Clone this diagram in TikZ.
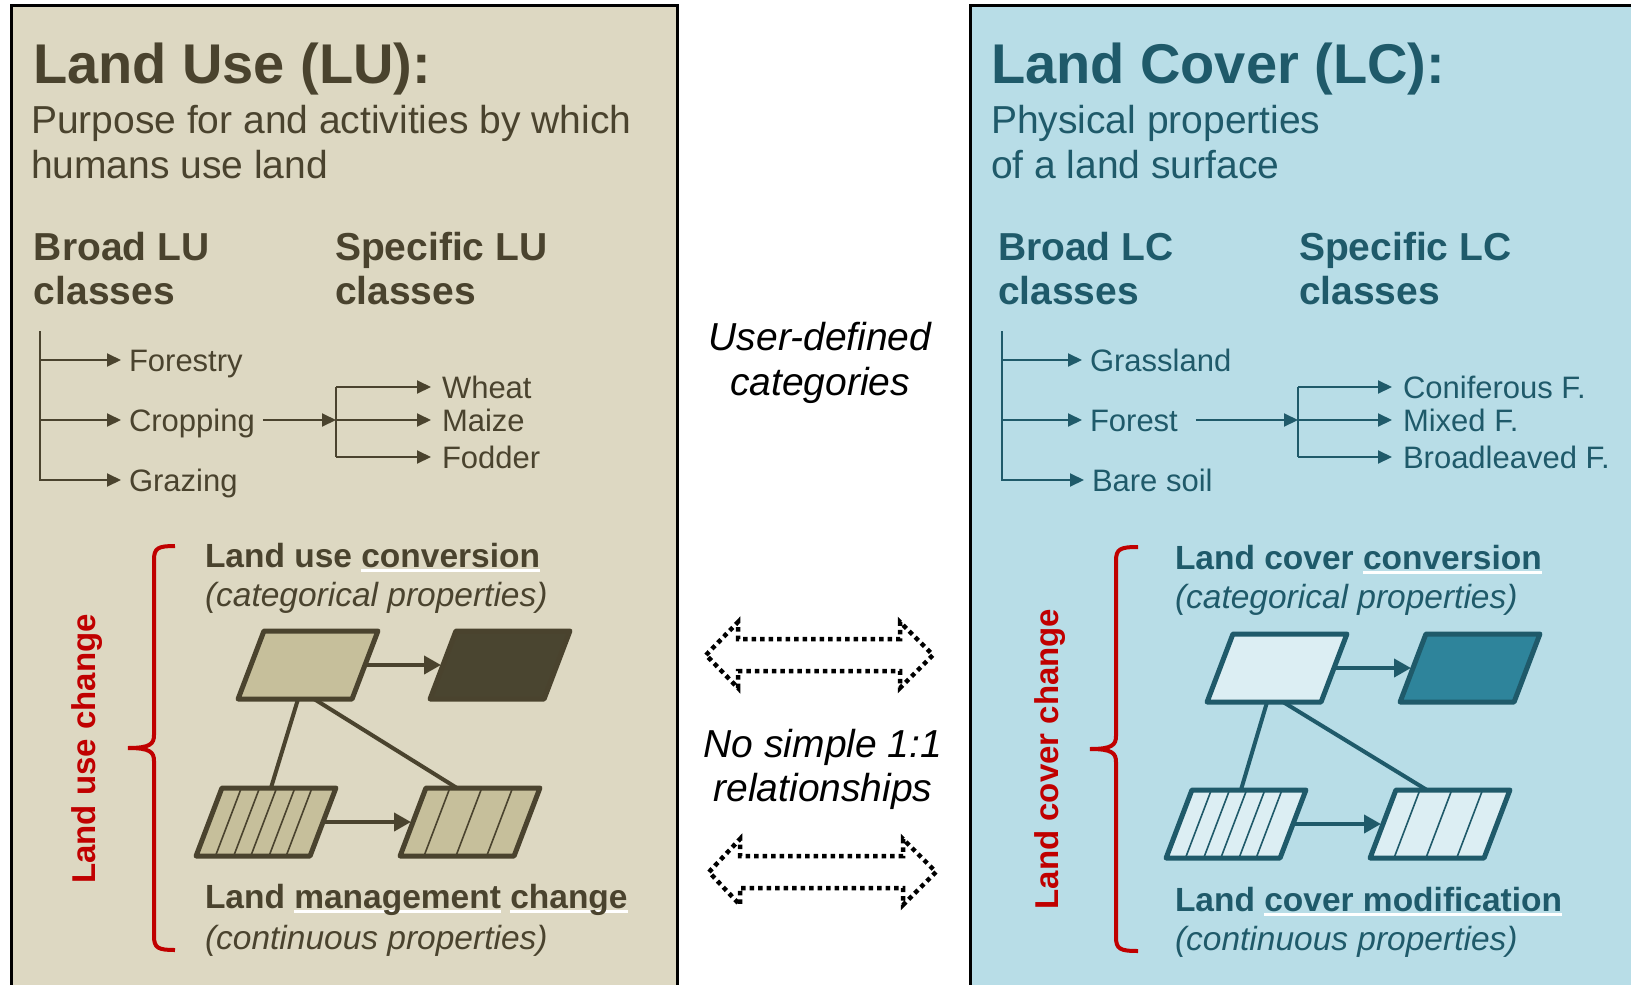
\documentclass[tikz,border=0pt]{standalone}
\usepackage{fontspec}
\setmainfont{Liberation Sans}
\usetikzlibrary{arrows.meta,calc}

\definecolor{luBg}{HTML}{DDD8C2}
\definecolor{luInk}{HTML}{4A432E}
\definecolor{luPale}{HTML}{C6BF9B}
\definecolor{luDark}{HTML}{4A4530}
\definecolor{lcBg}{HTML}{B8DDE7}
\definecolor{lcInk}{HTML}{1F5A6A}
\definecolor{lcPale}{HTML}{DCEEF3}
\definecolor{lcDark}{HTML}{2E849B}
\definecolor{braceRed}{HTML}{C00000}

% white underline drawn beneath a word, text stays on top
\newcommand{\whiteline}[1]{\setbox0=\hbox{#1}\rlap{\color{white}\rule[-4.5pt]{\wd0}{2.2pt}}\box0\relax}

\tikzset{
  every node/.style={inner sep=0pt, outer sep=0pt},
  panel/.style={draw=black, line width=3pt},
  title/.style={font=\fontsize{56}{60}\selectfont\bfseries, anchor=base west},
  subtitle/.style={font=\fontsize{39}{45}\selectfont, anchor=base west},
  head/.style={font=\fontsize{39}{44}\selectfont\bfseries, anchor=base west},
  leaf/.style={font=\fontsize{31}{36}\selectfont, text height=22pt, text depth=0pt, anchor=west, inner xsep=8pt},
  sleaf/.style={leaf, inner xsep=11pt},
  treeline/.style={line width=2pt},
  treearrow/.style={line width=2pt, -{Triangle[length=14pt,width=13pt]}},
  kind/.style={font=\fontsize{33.5}{38}\selectfont\bfseries, anchor=base west},
  prop/.style={font=\fontsize{33.5}{38}\selectfont\itshape, anchor=base west},
  changelabel/.style={font=\fontsize{33}{38}\selectfont\bfseries, text=braceRed, rotate=90, anchor=base},
  bracepath/.style={draw=braceRed, line width=4pt},
  tile/.style={draw, line width=5pt, line join=round, minimum width=114pt, minimum height=68pt, xslant=0.38},
  stripe/.style={line width=1.6pt},
  link/.style={line width=4pt},
  linkarrow/.style={link, -{Triangle[length=17pt,width=18pt]}, shorten >=2pt},
  mid/.style={font=\fontsize{39}{45}\selectfont\itshape, anchor=base},
  dotarrow/.style={line width=4.5pt, dash pattern=on 4.5pt off 4pt},
}

\begin{document}
\begin{tikzpicture}[x=1pt, y=-1pt]
\useasboundingbox (0,0) rectangle (1631,985);
\clip (0,0) rectangle (1631,985);
\fill[white] (0,0) rectangle (1631,985);

% the two panels
\path[panel, fill=luBg] (11,5) rectangle (677,1010);
\path[panel, fill=lcBg] (970,5) rectangle (1650,1010);

% ================= Land use =================
\begin{scope}[luInk]
  \node[title] (lu-title) at (33,83) {Land Use (LU):};
  \node[subtitle] (lu-def1) at (31,133) {Purpose for and activities by which};
  \node[subtitle] (lu-def2) at (31,178) {humans use land};
  \node[head] (lu-broad1) at (34,260) {Broad LU};
  \node[head] (lu-broad2) at (34,304) {classes};
  \node[head] (lu-spec1) at (335,260) {Specific LU};
  \node[head] (lu-spec2) at (335,304) {classes};

  % class tree
  \coordinate (lu-trunk) at (39.5,331);
  \node[leaf] (forestry) at (121,360) {Forestry};
  \node[leaf] (cropping) at (121,420) {Cropping};
  \node[leaf] (grazing) at (121,480) {Grazing};
  \draw[treearrow] (lu-trunk) |- (grazing);
  \draw[treearrow] (lu-trunk |- forestry) -- (forestry);
  \draw[treearrow] (lu-trunk |- cropping) -- (cropping);

  \coordinate (lu-split) at (336,420);
  \node[sleaf] (wheat) at (431,387) {Wheat};
  \node[sleaf] (maize) at (431,420) {Maize};
  \node[sleaf] (fodder) at (431,457) {Fodder};
  \draw[treearrow] (cropping) -- (lu-split);
  \draw[treeline] (lu-split |- wheat) -- (lu-split |- fodder);
  \foreach \leafname in {wheat,maize,fodder}
    \draw[treearrow] (lu-split |- \leafname) -- (\leafname);

  % change types
  \node[kind] (lu-conv) at (205,567) {Land use \whiteline{conversion}};
  \node[prop] (lu-cat) at (205,606) {(categorical properties)};
  \node[kind] (lu-mgmt) at (205,908) {Land \whiteline{management} \whiteline{change}};
  \node[prop] (lu-cont) at (205,949) {(continuous properties)};

  % tiles
  \node[tile, fill=luPale] (lu-a) at (308,665) {};
  \node[tile, fill=luDark] (lu-b) at (500,665) {};
  \node[tile, fill=luPale] (lu-c) at (266,822) {};
  \node[tile, fill=luPale] (lu-d) at (470,822) {};
  \foreach \f in {0.17,0.33,0.48,0.64,0.79}
    \draw[stripe] ($(lu-c.north west)!\f!(lu-c.north east)$) -- ($(lu-c.south west)!\f!(lu-c.south east)$);
  \foreach \f in {0.21,0.49,0.76}
    \draw[stripe] ($(lu-d.north west)!\f!(lu-d.north east)$) -- ($(lu-d.south west)!\f!(lu-d.south east)$);
  \draw[link] ([xshift=3pt]lu-a.south) -- ([xshift=-8pt]lu-c.north);
  \draw[link] ([xshift=19pt]lu-a.south) -- ([xshift=-26pt]lu-d.north);
  \draw[linkarrow] (lu-a.east) -- (lu-b.west);
  \draw[linkarrow] (lu-c.east) -- (lu-d.west);
\end{scope}

% brace grouping the land use changes
\draw[bracepath] (175,546) .. controls (158,546) and (154,548) .. (154,560)
  -- (154,735) .. controls (154,744) and (150,748) .. (128,748)
  .. controls (150,748) and (154,752) .. (154,761)
  -- (154,936) .. controls (154,948) and (158,950) .. (175,950);
\node[changelabel] (lu-change) at (95,749) {Land use change};

% ================= Land cover =================
\begin{scope}[lcInk]
  \node[title] (lc-title) at (991,83) {Land Cover (LC):};
  \node[subtitle] (lc-def1) at (991,133) {Physical properties};
  \node[subtitle] (lc-def2) at (991,178) {of a land surface};
  \node[head] (lc-broad1) at (998,260) {Broad LC};
  \node[head] (lc-broad2) at (998,304) {classes};
  \node[head] (lc-spec1) at (1299,260) {Specific LC};
  \node[head] (lc-spec2) at (1299,304) {classes};

  % class tree
  \coordinate (lc-trunk) at (1002,331);
  \node[leaf] (grassland) at (1082,360) {Grassland};
  \node[leaf] (forest) at (1082,420) {Forest};
  \node[leaf] (baresoil) at (1084,480) {Bare soil};
  \draw[treearrow] (lc-trunk) |- (baresoil);
  \draw[treearrow] (lc-trunk |- grassland) -- (grassland);
  \draw[treearrow] (lc-trunk |- forest) -- (forest);

  \coordinate (lc-split) at (1298,420);
  \node[sleaf] (coniferous) at (1392,387) {Coniferous F.};
  \node[sleaf] (mixed) at (1392,420) {Mixed F.};
  \node[sleaf] (broadleaved) at (1392,457) {Broadleaved F.};
  \draw[treearrow] ([xshift=10pt]forest.east) -- (lc-split);
  \draw[treeline] (lc-split |- coniferous) -- (lc-split |- broadleaved);
  \foreach \leafname in {coniferous,mixed,broadleaved}
    \draw[treearrow] (lc-split |- \leafname) -- (\leafname);

  % change types
  \node[kind] (lc-conv) at (1175,569) {Land cover \whiteline{conversion}};
  \node[prop] (lc-cat) at (1175,608) {(categorical properties)};
  \node[kind] (lc-mod) at (1175,911) {Land \whiteline{cover modification}};
  \node[prop] (lc-cont) at (1175,950) {(continuous properties)};

  % tiles
  \node[tile, fill=lcPale] (lc-a) at (1277,668) {};
  \node[tile, fill=lcDark] (lc-b) at (1470,668) {};
  \node[tile, fill=lcPale] (lc-c) at (1236,824) {};
  \node[tile, fill=lcPale] (lc-d) at (1440,824) {};
  \foreach \f in {0.17,0.33,0.48,0.64,0.79}
    \draw[stripe] ($(lc-c.north west)!\f!(lc-c.north east)$) -- ($(lc-c.south west)!\f!(lc-c.south east)$);
  \foreach \f in {0.21,0.49,0.76}
    \draw[stripe] ($(lc-d.north west)!\f!(lc-d.north east)$) -- ($(lc-d.south west)!\f!(lc-d.south east)$);
  \draw[link] ([xshift=3pt]lc-a.south) -- ([xshift=-8pt]lc-c.north);
  \draw[link] ([xshift=19pt]lc-a.south) -- ([xshift=-26pt]lc-d.north);
  \draw[linkarrow] (lc-a.east) -- (lc-b.west);
  \draw[linkarrow] (lc-c.east) -- (lc-d.west);
\end{scope}

% brace grouping the land cover changes
\draw[bracepath] (1138,547) .. controls (1120,547) and (1116,549) .. (1116,561)
  -- (1116,736) .. controls (1116,745) and (1112,749) .. (1090,749)
  .. controls (1112,749) and (1116,753) .. (1116,762)
  -- (1116,937) .. controls (1116,949) and (1120,951) .. (1138,951);
\node[changelabel] (lc-change) at (1058,759) {Land cover change};

% ================= between the panels =================
\node[mid] (ud1) at (820,350) {User-defined};
\node[mid] (ud2) at (820,395) {categories};
\node[mid] (ns1) at (823,757) {No simple 1:1};
\node[mid] (ns2) at (823,801) {relationships};

\draw[dotarrow] (706,655) -- (738,622) -- (738,639) -- (900,639) -- (900,622)
  -- (933,655) -- (900,688) -- (900,671) -- (738,671) -- (738,688) -- cycle;
\draw[dotarrow] (709,872) -- (740,839) -- (740,856) -- (903,856) -- (903,839)
  -- (936,872) -- (903,905) -- (903,888) -- (740,888) -- (740,905) -- cycle;
\end{tikzpicture}
\end{document}
